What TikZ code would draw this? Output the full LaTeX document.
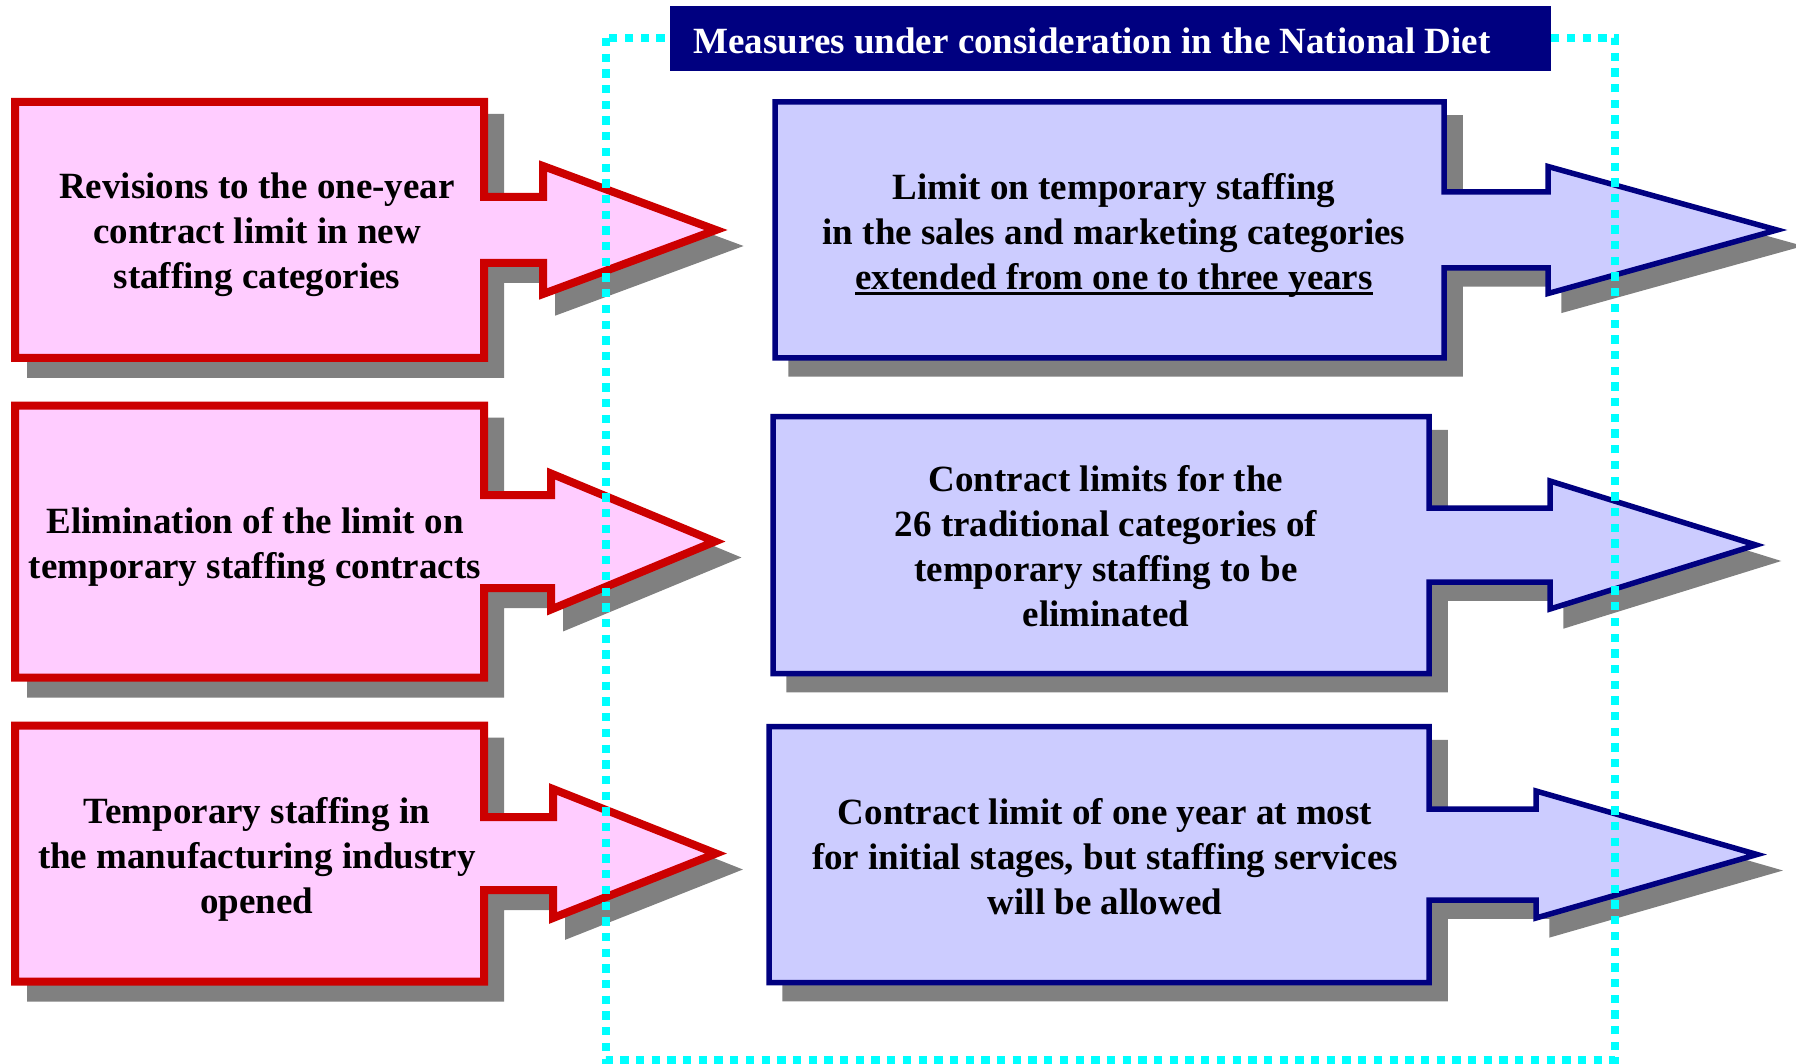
\documentclass[tikz,border=0pt]{standalone}
\usepackage{fontspec}
\setmainfont{Liberation Serif}

\definecolor{pinkfill}{HTML}{FFCCFF}
\definecolor{redline}{HTML}{CC0000}
\definecolor{bluefill}{HTML}{CCCCFF}
\definecolor{navy}{HTML}{000080}
\definecolor{shade}{HTML}{808080}
\definecolor{dietline}{HTML}{00FFFF}

% box + neck + head: {style}{left}{right}{mid y}{box half}{neck half}{head x}{head half}{tip x}
\newcommand{\callout}[9]{\draw[#1] (#2,#4-#5) -- (#3,#4-#5) -- (#3,#4-#6) -- (#7,#4-#6) -- (#7,#4-#8) -- (#9,#4) -- (#7,#4+#8) -- (#7,#4+#6) -- (#3,#4+#6) -- (#3,#4+#5) -- (#2,#4+#5) -- cycle;}
\newcommand{\thickul}[1]{\setbox0=\hbox{#1}\rlap{\rule[-5.7pt]{\wd0}{3pt}}\box0}

\begin{document}
\begin{tikzpicture}[x=1pt,y=-1pt,
  redarrow/.style={fill=pinkfill,draw=redline,line width=8pt},
  bluearrow/.style={fill=bluefill,draw=navy,line width=5.5pt},
  shadow/.style={fill=shade,draw=shade,line width=#1,shift={(16,16)}},
  boxtext/.style={font=\fontsize{37}{45}\selectfont\bfseries,align=center}]
\useasboundingbox (0,0) rectangle (1796,1064);

%Shadows
\callout{shadow=8pt}{15}{484}{230}{128}{33}{543}{64}{716}
\callout{shadow=8pt}{15}{484}{541.5}{136}{46.5}{551}{68}{715}
\callout{shadow=8pt}{15}{484}{853.5}{128}{36.5}{553}{64.5}{716}
\callout{shadow=5.5pt}{775}{1444}{230}{128}{38}{1548}{63.5}{1777}
\callout{shadow=5.5pt}{773}{1429}{545}{128.5}{37}{1550}{64}{1756}
\callout{shadow=5.5pt}{769}{1429}{854.5}{128}{45.5}{1536}{63.5}{1757}

%Now
\callout{redarrow}{15}{484}{230}{128}{33}{543}{64}{716}
\callout{redarrow}{15}{484}{541.5}{136}{46.5}{551}{68}{715}
\callout{redarrow}{15}{484}{853.5}{128}{36.5}{553}{64.5}{716}

%Diet
\callout{bluearrow}{775}{1444}{230}{128}{38}{1548}{63.5}{1777}
\callout{bluearrow}{773}{1429}{545}{128.5}{37}{1550}{64}{1756}
\callout{bluearrow}{769}{1429}{854.5}{128}{45.5}{1536}{63.5}{1757}

\draw[dietline,line width=8.5pt,dash pattern=on 8.3pt off 7.4pt] (606,38) rectangle (1615,1060);

\node (head) at (1110.5,38.5) [fill=navy,minimum width=881pt,minimum height=65pt,inner sep=0pt] {};
\node (title) at (1092,41) [boxtext,text=white] {Measures under consideration in the National Diet};

\node (rev)  at (257,235) [boxtext] {Revisions to the one-year\\contract limit in new\\staffing categories};
\node (elim) at (255,547) [boxtext] {Elimination of the limit on\\temporary staffing contracts};
\node (manu) at (257,859) [boxtext] {Temporary staffing in\\the manufacturing industry\\opened};

\node (lim)  at (1114,235) [boxtext] {Limit on temporary staffing\\in the sales and marketing categories\\\thickul{extended from one to three years}};
\node (trad) at (1106,546.5) [boxtext] {Contract limits for the\\26 traditional categories of\\temporary staffing to be\\eliminated};
\node (init) at (1105,856.5) [boxtext] {Contract limit of one year at most\\for initial stages, but staffing services\\will be allowed};

\end{tikzpicture}
\end{document}
